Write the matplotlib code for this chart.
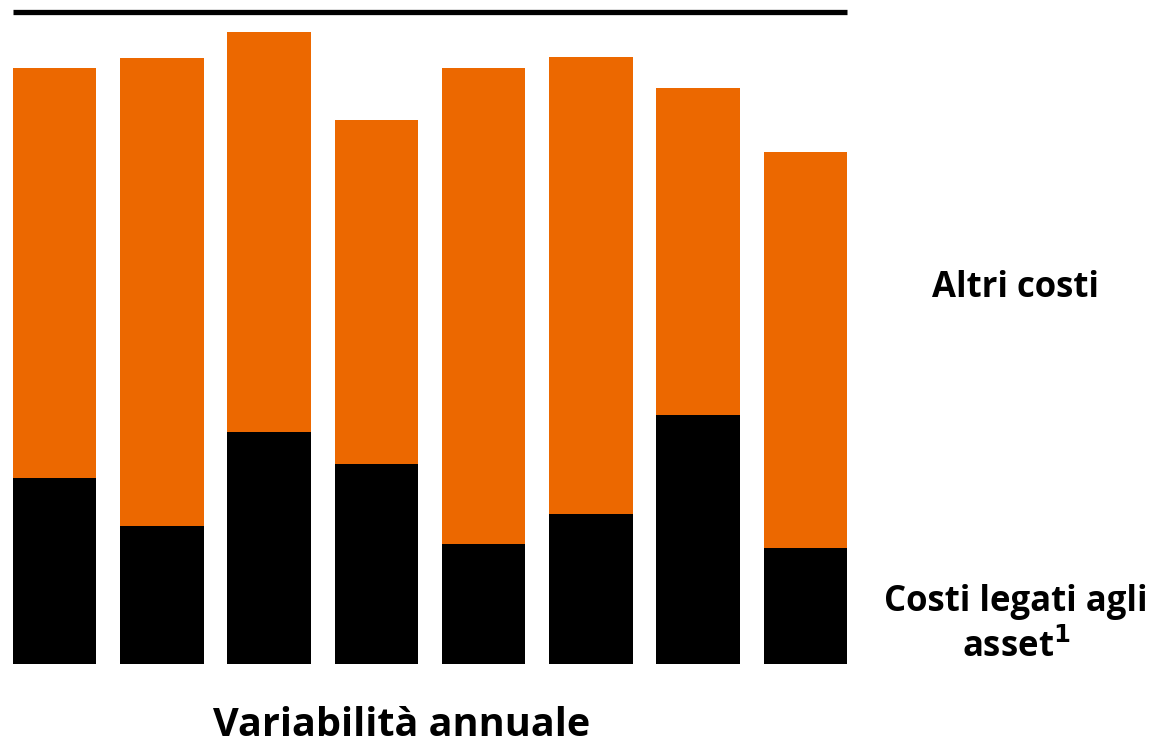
import matplotlib
matplotlib.use("Agg")
import matplotlib.pyplot as plt
import numpy as np

# Costi annuali (indice, totale di riferimento = 100)
anni = ["A1", "A2", "A3", "A4", "A5", "A6", "A7", "A8"]
costi_asset = [28.5, 21.2, 35.6, 30.7, 18.4, 23.0, 38.2, 17.8]
costi_totali = [91.3, 92.9, 96.8, 83.4, 91.3, 93.1, 88.3, 78.5]
altri_costi = [t - a for t, a in zip(costi_totali, costi_asset)]
riferimento = 100

ARANCIO = "#EC6800"
plt.rcParams["font.family"] = ["Open Sans", "DejaVu Sans"]

fig = plt.figure(figsize=(11.54, 7.5), dpi=100)
ax = fig.add_axes([13 / 1154, 1 - 664 / 750, 834 / 1154, 652.5 / 750])

x = np.arange(len(anni))
w = 0.778
ax.bar(x, costi_asset, width=w, color="black")
ax.bar(x, altri_costi, width=w, bottom=costi_asset, color=ARANCIO)
ax.axhline(riferimento, color="black", lw=3.8, clip_on=False,
           solid_capstyle="butt")

ax.set_xlim(-w / 2, len(anni) - 1 + w / 2)
ax.set_ylim(0, riferimento)
ax.axis("off")

fig.text(1016 / 1154, 1 - 288 / 750, "Altri costi", ha="center", va="center",
         fontsize=25, fontweight="bold")
fig.text(1016 / 1154, 1 - 625 / 750, "Costi legati agli\nasset$^{\\mathbf{1}}$",
         ha="center", va="center", fontsize=25, fontweight="bold",
         linespacing=1.38)
fig.text(402 / 1154, 1 - 725 / 750, "Variabilità annuale", ha="center",
         va="center", fontsize=28.5, fontweight="bold")

fig.savefig("out.png", dpi=100)
